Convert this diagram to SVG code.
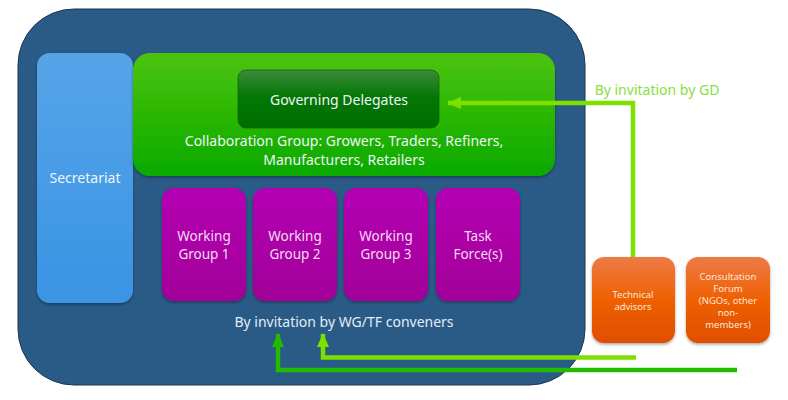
<svg xmlns="http://www.w3.org/2000/svg" width="788" height="400" viewBox="0 0 788 400">
<defs>
<linearGradient id="gBlue" x1="0" y1="0" x2="0" y2="1"><stop offset="0" stop-color="#56a4e8"/><stop offset="1" stop-color="#3a94e4"/></linearGradient>
<linearGradient id="gGreen" x1="0" y1="0" x2="0" y2="1"><stop offset="0" stop-color="#4cc40a"/><stop offset="1" stop-color="#0aa900"/></linearGradient>
<linearGradient id="gDark" x1="0" y1="0" x2="0" y2="1"><stop offset="0" stop-color="#3c8a3c"/><stop offset="0.45" stop-color="#047804"/><stop offset="1" stop-color="#006c00"/></linearGradient>
<linearGradient id="gPurple" x1="0" y1="0" x2="0" y2="1"><stop offset="0" stop-color="#b400b4"/><stop offset="1" stop-color="#a20098"/></linearGradient>
<linearGradient id="gOrange" x1="0" y1="0" x2="0" y2="1"><stop offset="0" stop-color="#ee7a48"/><stop offset="0.5" stop-color="#ee6000"/><stop offset="1" stop-color="#e04e00"/></linearGradient>
<filter id="sh" x="-10%" y="-10%" width="120%" height="120%"><feDropShadow dx="0" dy="1.5" stdDeviation="1.5" flood-color="#000" flood-opacity="0.35"/></filter>
<marker id="aLight" viewBox="0 0 14 12" refX="13" refY="6" markerWidth="14" markerHeight="12" markerUnits="userSpaceOnUse" orient="auto"><path d="M0,0 L14,6 L0,12 Z" fill="#7ee000"/></marker>
<marker id="aDark" viewBox="0 0 14 12" refX="13" refY="6" markerWidth="14" markerHeight="12" markerUnits="userSpaceOnUse" orient="auto"><path d="M0,0 L14,6 L0,12 Z" fill="#22bb00"/></marker>
</defs>
<style>
text{font-family:"Noto Sans","Liberation Sans",sans-serif;text-anchor:middle}
.w{fill:#eef4fb;font-size:14px}
.p{fill:#f4dcf4;font-size:13.5px}
.o{fill:#fde6d8;font-size:9.5px}
.c{fill:none;stroke-width:4.5}
</style>
<g id="outer"><rect x="18" y="9" width="567" height="376" rx="56" fill="#2a5b87" stroke="#1a3550" stroke-width="1"/></g>
<g id="secretariat"><rect x="37" y="53" width="96" height="250" rx="13" fill="url(#gBlue)" filter="url(#sh)"/><text class="w" x="85" y="183">Secretariat</text></g>
<g id="collaboration"><rect x="133" y="53" width="422" height="123" rx="17" fill="url(#gGreen)" filter="url(#sh)"/><text class="w" x="344" y="146">Collaboration Group: Growers, Traders, Refiners,</text><text class="w" x="344" y="165">Manufacturers, Retailers</text></g>
<g id="gd"><rect x="238" y="70" width="201" height="58" rx="8" fill="url(#gDark)" stroke="#0a6a0a" stroke-width="0.8"/><text class="w" x="339" y="105">Governing Delegates</text></g>
<g id="wg1"><rect x="162" y="188" width="84" height="113" rx="12" fill="url(#gPurple)" filter="url(#sh)"/><text class="p" x="204" y="241">Working</text><text class="p" x="204" y="259">Group 1</text></g>
<g id="wg2"><rect x="253" y="188" width="84" height="113" rx="12" fill="url(#gPurple)" filter="url(#sh)"/><text class="p" x="295" y="241">Working</text><text class="p" x="295" y="259">Group 2</text></g>
<g id="wg3"><rect x="344" y="188" width="84" height="113" rx="12" fill="url(#gPurple)" filter="url(#sh)"/><text class="p" x="386" y="241">Working</text><text class="p" x="386" y="259">Group 3</text></g>
<g id="tf"><rect x="436" y="188" width="84" height="113" rx="12" fill="url(#gPurple)" filter="url(#sh)"/><text class="p" x="478" y="241">Task</text><text class="p" x="478" y="259">Force(s)</text></g>
<g id="wgtf-label"><text x="344" y="327" fill="#e2ecf6" font-size="14">By invitation by WG/TF conveners</text></g>
<g id="technical"><rect x="592" y="257" width="83" height="86" rx="12" fill="url(#gOrange)" filter="url(#sh)"/><text class="o" x="633" y="298">Technical</text><text class="o" x="633" y="310">advisors</text></g>
<g id="consultation"><rect x="686" y="257" width="84" height="86" rx="12" fill="url(#gOrange)" filter="url(#sh)"/><text class="o" x="728" y="280">Consultation</text><text class="o" x="728" y="292">Forum</text><text class="o" x="728" y="304">(NGOs, other</text><text class="o" x="728" y="316">non-</text><text class="o" x="728" y="328">members)</text></g>
<g id="connectors">
<path class="c" d="M633,257 L633,103 L448,103" stroke="#7ee000" marker-end="url(#aLight)"/>
<path class="c" d="M636,357.5 L323,357.5 L323,334" stroke="#7ee000" marker-end="url(#aLight)"/>
<path class="c" d="M737,370 L278,370 L278,334" stroke="#22bb00" marker-end="url(#aDark)"/>
<text x="657" y="95" fill="#88e040" font-size="14">By invitation by GD</text>
</g>
</svg>
